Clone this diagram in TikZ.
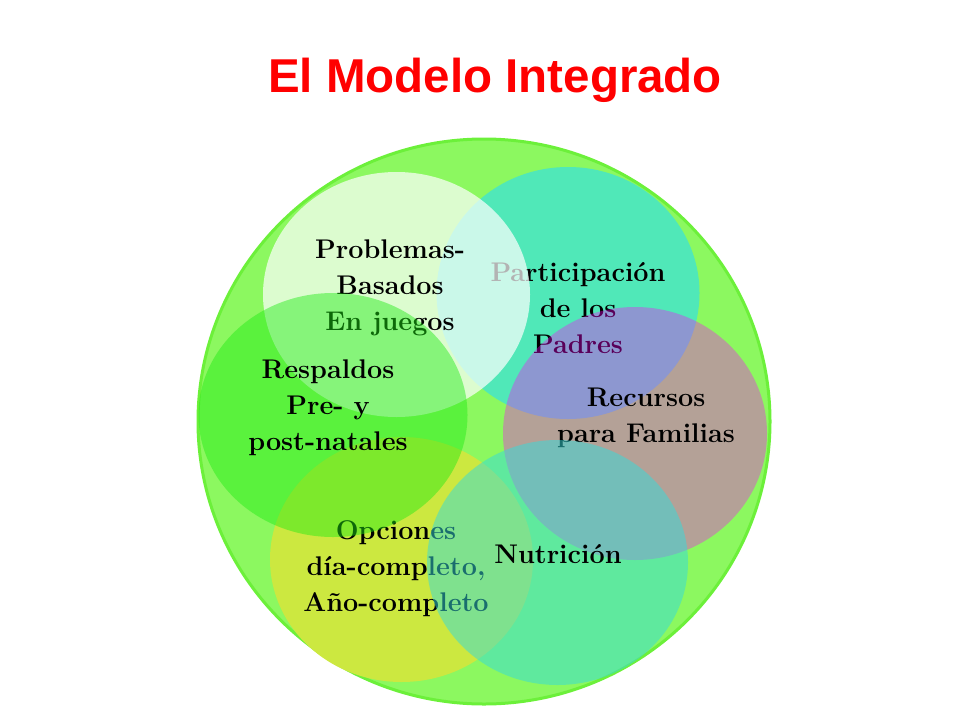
\documentclass[tikz,border=0pt]{standalone}
\usepackage{fontspec}
\newfontfamily\titlefont{Liberation Sans}
\usepackage{tikz}
\usetikzlibrary{shapes.geometric}
\usepackage{xcolor}
\definecolor{ringgreen}{RGB}{108,240,58}
\definecolor{basegreen}{RGB}{140,248,96}
\definecolor{padresteal}{RGB}{80,232,184}
\definecolor{opcyellow}{RGB}{204,232,64}
\definecolor{respgreen}{RGB}{30,235,20}
\definecolor{recupink}{RGB}{255,0,255}
\definecolor{nutrcyan}{RGB}{52,220,220}
\definecolor{titlered}{RGB}{255,0,0}
\tikzset{
  bubble/.style={
    ellipse,
    inner sep=0pt,
    draw=none,
  },
  bubbletext/.style={
    align=center,
    inner sep=0pt,
    font=\fontsize{27}{36}\selectfont\bfseries,
  },
  heading/.style={
    inner sep=0pt,
    text=titlered,
    font=\titlefont\fontsize{47.5}{57}\selectfont\bfseries,
  },
}
\begin{document}
\begin{tikzpicture}[x=1pt,y=-1pt]
  \useasboundingbox (0,0) rectangle (960,720);
  \node[heading, anchor=base] (title) at (495,92) {El Modelo Integrado};

  \node[bubble, fill=basegreen, draw=ringgreen, line width=3pt,
        minimum width=572pt, minimum height=565pt] (whole) at (484,421.5) {};

  \node[bubble, fill=padresteal, minimum width=263pt, minimum height=252pt] (part) at (568,293) {};
  \node[bubbletext] (parttext) at (578,308) {Participación\\de los\\Padres};

  \node[bubble, fill=white, fill opacity=0.7, minimum width=267pt, minimum height=245pt] (prob) at (396.5,294.5) {};
  \node[bubbletext] (probtext) at (390,288) {Problemas-\\Basados\\En juegos};

  \node[bubble, fill=opcyellow, minimum width=263pt, minimum height=245pt] (opc) at (401.5,559.5) {};
  \node[bubbletext] (opctext) at (396,568.5) {Opciones\\día-completo,\\Año-completo};

  \node[bubble, fill=respgreen, fill opacity=0.45, minimum width=269pt, minimum height=244pt] (resp) at (333,415) {};
  \node[bubbletext] (resptext) at (328,408) {Respaldos\\Pre- y\\post-natales};

  \node[bubble, fill=recupink, fill opacity=0.35, minimum width=264pt, minimum height=253pt] (recu) at (635,433.5) {};
  \node[bubbletext] (recutext) at (646,418) {Recursos\\para Familias};

  \node[bubble, fill=nutrcyan, fill opacity=0.5, minimum width=261pt, minimum height=245pt] (nutr) at (557.5,562.5) {};
  \node[bubbletext] (nutrtext) at (558,554) {Nutrición};
\end{tikzpicture}
\end{document}
